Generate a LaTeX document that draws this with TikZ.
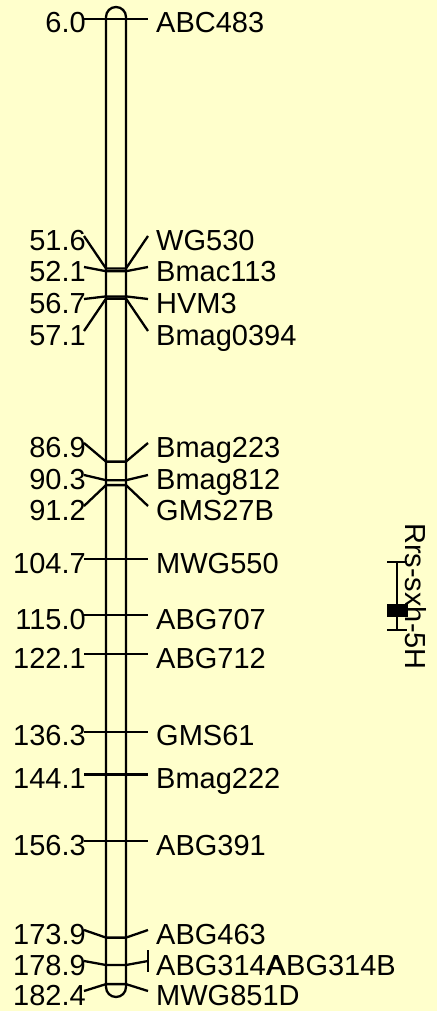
\documentclass[tikz,border=0pt]{standalone}
\usepackage{fontspec}
\setmainfont{Liberation Sans}
\usepackage{tikz}
\usetikzlibrary{positioning}
\definecolor{mapbg}{HTML}{FFFFCC}
% one marker: id, y on bar, y of label, position, name
\newcommand{\mkr}[5]{%
  \coordinate (bl#1) at (106,#2);
  \coordinate (br#1) at (126,#2);
  \coordinate (ll#1) at (84,#3);
  \coordinate (rl#1) at (148,#3);
  \node[poslbl] (pos#1) at (86,{#3+14}) {#4};
  \node[namelbl] (name#1) at (156,{#3+14}) {#5};
  \draw[mline] (ll#1) -- (bl#1) -- (br#1) -- (rl#1);
}

\begin{document}
\begin{tikzpicture}[x=1pt, y=-1pt, font=\fontsize{29}{34}\selectfont,
  mline/.style={line width=2.3pt},
  poslbl/.style={anchor=base east, inner sep=0pt},
  namelbl/.style={anchor=base west, inner sep=0pt}]

% ---- Background and bounding box ----
\fill[mapbg] (0,0) rectangle (437,1011);
\useasboundingbox (0,0) rectangle (437,1011);

% ---- Chromosome 5H ----
\draw[line width=2.3pt, rounded corners=10pt] (106,7) rectangle (126,997);

% ---- Markers ----
\mkr{1}{19}{19}{6.0}{ABC483}
\mkr{2}{268.5}{236}{51.6}{WG530}
\mkr{3}{271.2}{267}{52.1}{Bmac113}
\mkr{4}{296.4}{299}{56.7}{HVM3}
\mkr{5}{298.6}{331}{57.1}{Bmag0394}
\mkr{6}{461.6}{443}{86.9}{Bmag223}
\mkr{7}{480.2}{475}{90.3}{Bmag812}
\mkr{8}{485.1}{506}{91.2}{GMS27B}
\mkr{9}{559.0}{559.0}{104.7}{MWG550}
\mkr{10}{615.3}{615.3}{115.0}{ABG707}
\mkr{11}{654.2}{654.2}{122.1}{ABG712}
\mkr{12}{731.9}{731.9}{136.3}{GMS61}
\mkr{13}{774.6}{774.6}{144.1}{Bmag222}
\mkr{14}{841.3}{841.3}{156.3}{ABG391}
\mkr{15}{937.6}{930}{173.9}{ABG463}
\mkr{16}{965.0}{961}{178.9}{ABG314A}
\mkr{17}{984.1}{991}{182.4}{MWG851D}

% Second marker on the same locus
\node[namelbl, xshift=1pt] (name16b) at (name16.base west) {\phantom{ABG314}ABG314B};
\draw[mline] (148,950) -- (148,972);

% ---- QTL ----
\node[anchor=base, rotate=-90, inner sep=0pt] (qtl) at (405,596.5) {Rrs-sxh-5H};
\draw[mline] (397,562) -- (397,630);
\draw[mline] (387,562) -- (407,562);
\draw[mline] (387,630) -- (407,630);
\fill (387,604) rectangle (408,617);

\end{tikzpicture}
\end{document}
